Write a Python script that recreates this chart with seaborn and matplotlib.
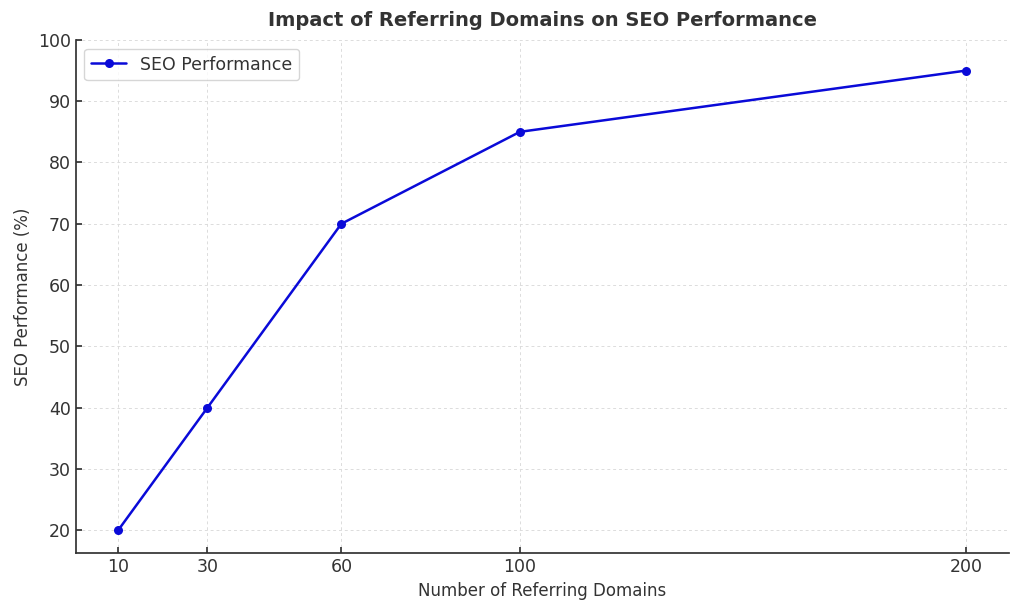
import matplotlib
matplotlib.use("Agg")
import matplotlib.pyplot as plt
import pandas as pd
import seaborn as sns

referring_domains = [10, 30, 60, 100, 200]
seo_performance = [20, 40, 70, 85, 95]
y_ticks = [20, 30, 40, 50, 60, 70, 80, 90, 100]

sns.set_theme(style="ticks")
plt.rcParams["font.family"] = ["DejaVu Sans"]
text_color = "#333333"
plt.rcParams.update({
    "text.color": text_color,
    "axes.labelcolor": text_color,
    "xtick.color": text_color,
    "ytick.color": text_color,
    "axes.edgecolor": text_color,
    "xtick.direction": "in",
    "ytick.direction": "in",
})

df = pd.DataFrame({"domains": referring_domains, "seo": seo_performance})

fig, ax = plt.subplots(figsize=(10.24, 6.14), dpi=100)
fig.subplots_adjust(left=0.074, right=0.985, top=0.935, bottom=0.099)

sns.lineplot(data=df, x="domains", y="seo", marker="o", color="#0a0ad8",
             linewidth=1.8, markersize=6.5, markeredgewidth=0,
             label="SEO Performance", ax=ax)

ax.set_xticks(referring_domains)
ax.set_yticks(y_ticks)
ax.set_xlim(0.5, 209.5)
ax.set_ylim(16.25, 100)
ax.tick_params(labelsize=12.5, length=4)
ax.grid(True, linestyle=(0, (3, 3)), color="#dcdcdc", linewidth=0.7)
sns.despine(ax=ax)

ax.set_title("Impact of Referring Domains on SEO Performance",
             fontsize=14, fontweight="bold", pad=10)
ax.set_xlabel("Number of Referring Domains", fontsize=12)
ax.set_ylabel("SEO Performance (%)", fontsize=12)
ax.legend(loc="upper left", fontsize=12.5, frameon=True)

plt.savefig("out.png", dpi=100)
plt.close()
